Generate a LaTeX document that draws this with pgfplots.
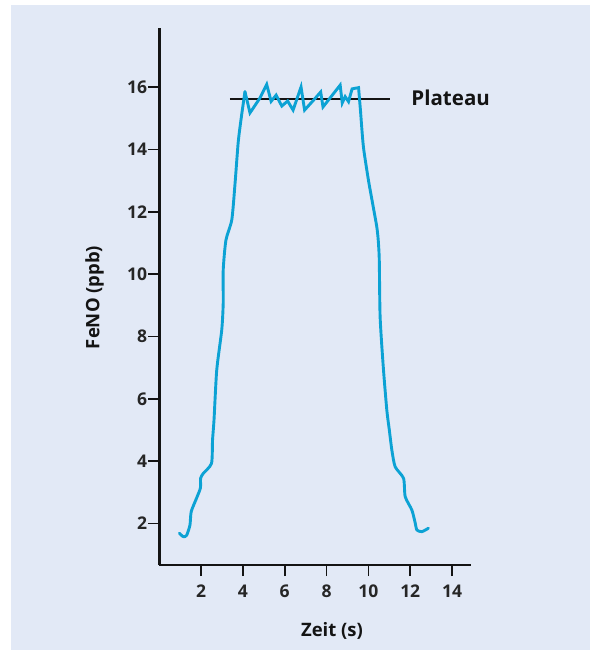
\documentclass[border=0pt]{standalone}
\usepackage{fontspec}
\setmainfont{Open Sans}
\usepackage{pgfplots}
\pgfplotsset{compat=1.18}
\definecolor{panel}{HTML}{E2E9F6}
\definecolor{trace}{RGB}{12,162,212}
\begin{document}
\begin{tikzpicture}
% page and tinted panel (lower-left corner of the axis box is the origin)
\fill[white] (-159.2pt,565pt) rectangle (430.8pt,-85pt);
\fill[panel] (-148.2pt,560pt) rectangle (430.8pt,-85pt);
\useasboundingbox (-159.2pt,565pt) rectangle (430.8pt,-85pt);
\begin{axis}[
  x=20.92pt, y=31.18pt,
  xmin=0, xmax=14.9, ymin=0.67, ymax=17.89,
  axis lines=left,
  axis line style={-, line width=2.8pt, black!92},
  tick align=outside,
  major tick length=11pt,
  tick style={line width=1.6pt, black!92},
  xtick={2,4,...,14},
  ytick={2,4,...,16},
  /pgf/number format/assume math mode=true,
  ticklabel style={font=\bfseries\fontsize{17.5}{20}\selectfont, text=black!85},
  yticklabel style={inner sep=1pt},
  xticklabel style={inner sep=1pt, yshift=-8pt},
  xlabel={Zeit (s)},
  ylabel={FeNO (ppb)},
  xlabel style={at={(axis cs:8.26,0.67)}, anchor=base, yshift=-71pt,
    font=\bfseries\fontsize{18.5}{20}\selectfont, text=black!92},
  ylabel style={at={(axis cs:-2.86,9.25)}, anchor=base, rotate=0,
    font=\bfseries\fontsize{18.5}{20}\selectfont, text=black!92},
  clip=false,
]
% plateau reference line
\addplot[line width=2.6pt, black!92] coordinates {(3.38,15.62) (11.03,15.62)};
\node[anchor=base west, inner sep=0pt, text=black!92,
  font=\bfseries\fontsize{20.5}{22}\selectfont] at (axis cs:12.05,15.40) {Plateau};

% rising flank
\addplot[trace, line width=2.9pt, smooth, tension=0.4, line cap=round, line join=round] coordinates {
  (0.96,1.69) (1.15,1.58) (1.31,1.62) (1.47,1.95) (1.53,2.38) (1.79,2.82)
  (1.97,3.14) (1.98,3.45) (2.11,3.61) (2.50,3.93) (2.55,4.68) (2.62,5.32)
  (2.75,6.92) (2.99,8.21) (3.06,9.07) (3.06,10.13) (3.19,11.09) (3.47,11.74)
  (3.62,12.86) (3.78,14.25) (3.94,15.10) (4.10,15.85)
};
% plateau
\addplot[trace, line width=2.9pt, line cap=round, line join=miter] coordinates {
  (4.10,15.85) (4.34,15.17) (4.82,15.65) (5.14,16.08) (5.35,15.54) (5.59,15.74)
  (5.86,15.39) (6.14,15.55) (6.40,15.26) (6.78,16.00) (6.95,15.26) (7.38,15.58)
  (7.72,15.84) (7.83,15.36) (8.65,16.06) (8.75,15.49) (8.89,15.69) (9.05,15.53)
  (9.22,15.94) (9.53,15.98) (9.63,15.17)
};
% falling flank
\addplot[trace, line width=2.9pt, smooth, tension=0.4, line cap=round, line join=round] coordinates {
  (9.63,15.17) (9.76,14.09) (10.00,13.02) (10.23,12.16) (10.40,11.52)
  (10.47,11.09) (10.52,10.45) (10.56,8.63) (10.71,7.03) (10.88,5.64)
  (11.00,5.00) (11.12,4.36) (11.28,3.82) (11.68,3.45) (11.76,2.86)
  (12.08,2.43) (12.24,2.01) (12.32,1.79) (12.56,1.74) (12.87,1.85)
};
\end{axis}
\end{tikzpicture}
\end{document}
